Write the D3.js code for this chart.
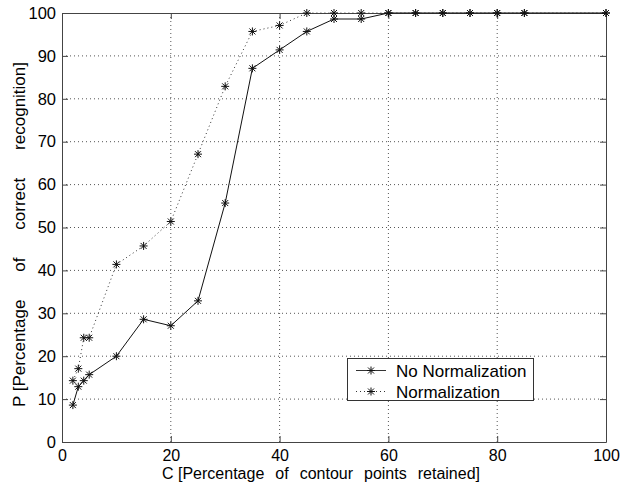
<!DOCTYPE html>
<html>
<head>
<meta charset="utf-8">
<script src="https://cdn.jsdelivr.net/npm/d3@7"></script>
<style>
html,body{margin:0;padding:0;background:#fff;}
svg{display:block;}
text{font-family:"Liberation Sans",Arial,Helvetica,sans-serif;fill:#000;}
</style>
</head>
<body>
<svg id="chart" width="623" height="483"></svg>
<script>
const xValues = [2,3,4,5,10,15,20,25,30,35,40,45,50,55,60,65,70,75,80,85,100];
const noNormalization = [8.6,12.9,14.3,15.7,20.0,28.6,27.1,32.9,55.7,87.1,91.4,95.7,98.6,98.6,100,100,100,100,100,100,100];
const normalization = [14.3,17.1,24.3,24.3,41.4,45.7,51.4,67.1,82.9,95.7,97.1,100,100,100,100,100,100,100,100,100,100];
const seriesNames = ["No Normalization","Normalization"];
const xTicks = [0,20,40,60,80,100];
const yTicks = [0,10,20,30,40,50,60,70,80,90,100];
const xTitleWords = ["C [Percentage","of","contour","points","retained]"];
const yTitleWords = ["P [Percentage","of","correct","recognition]"];

const svg = d3.select("#chart");
const L = 62, R = 606, T = 13, B = 442;
const x = d3.scaleLinear().domain([0,100]).range([L,R]);
const y = d3.scaleLinear().domain([0,100]).range([B,T]);
const axisColor = "#444";

// grid
const g = svg.append("g");
g.selectAll(".gx").data(xTicks.filter(d=>d>0&&d<100)).enter().append("line")
  .attr("x1",d=>x(d)).attr("x2",d=>x(d)).attr("y1",T).attr("y2",B)
  .attr("stroke","#555").attr("stroke-width",1).attr("stroke-dasharray","1,3");
g.selectAll(".gy").data(yTicks.filter(d=>d>0&&d<100)).enter().append("line")
  .attr("y1",d=>y(d)).attr("y2",d=>y(d)).attr("x1",L).attr("x2",R)
  .attr("stroke","#555").attr("stroke-width",1).attr("stroke-dasharray","1,3");

// axes (inward ticks on all sides)
svg.append("g").attr("transform",`translate(0,${B})`)
  .call(d3.axisBottom(x).tickValues(xTicks).tickSizeInner(-6).tickSizeOuter(0).tickPadding(7.5))
  .call(a=>{a.select(".domain").attr("stroke",axisColor);a.selectAll("line").attr("stroke",axisColor);
    a.selectAll("text").style("font-size","16px").attr("fill","#000");});
svg.append("g").attr("transform",`translate(0,${T})`)
  .call(d3.axisTop(x).tickValues(xTicks).tickSizeInner(-6).tickSizeOuter(0).tickFormat(""))
  .call(a=>{a.select(".domain").attr("stroke",axisColor);a.selectAll("line").attr("stroke",axisColor);});
svg.append("g").attr("transform",`translate(${L},0)`)
  .call(d3.axisLeft(y).tickValues(yTicks).tickSizeInner(-6).tickSizeOuter(0).tickPadding(6))
  .call(a=>{a.select(".domain").attr("stroke",axisColor);a.selectAll("line").attr("stroke",axisColor);
    a.selectAll("text").style("font-size","16.5px").attr("fill","#000");});
svg.append("g").attr("transform",`translate(${R},0)`)
  .call(d3.axisRight(y).tickValues(yTicks).tickSizeInner(-6).tickSizeOuter(0).tickFormat(""))
  .call(a=>{a.select(".domain").attr("stroke",axisColor);a.selectAll("line").attr("stroke",axisColor);});

// series
const data1 = xValues.map((d,i)=>[d,noNormalization[i]]);
const data2 = xValues.map((d,i)=>[d,normalization[i]]);
const line = d3.line().x(d=>x(d[0])).y(d=>y(d[1]));
svg.append("path").datum(data2).attr("d",line).attr("fill","none")
  .attr("stroke","#333").attr("stroke-width",1).attr("stroke-dasharray","1,3");
svg.append("path").datum(data1).attr("d",line).attr("fill","none")
  .attr("stroke","#111").attr("stroke-width",1);

function star(sel, cx, cy){
  const r = 4, d = 3;
  const p = `M${cx-r},${cy}L${cx+r},${cy}M${cx},${cy-r}L${cx},${cy+r}M${cx-d},${cy-d}L${cx+d},${cy+d}M${cx-d},${cy+d}L${cx+d},${cy-d}`;
  sel.append("path").attr("d",p).attr("stroke","#111").attr("stroke-width",1).attr("fill","none");
}
const mk = svg.append("g");
data2.forEach(d=>star(mk, x(d[0]), y(d[1])));
data1.forEach(d=>star(mk, x(d[0]), y(d[1])));

// legend
const lg = svg.append("g");
lg.append("rect").attr("x",347.5).attr("y",358.5).attr("width",186).attr("height",42)
  .attr("fill","#fff").attr("stroke","#333").attr("stroke-width",1);
const ly = [370.5, 391.5];
seriesNames.forEach((name,i)=>{
  const ln = lg.append("line").attr("x1",356).attr("x2",386).attr("y1",ly[i]).attr("y2",ly[i])
    .attr("stroke","#333").attr("stroke-width",1);
  if(i===1) ln.attr("stroke-dasharray","1,3");
  star(lg, 371, ly[i]);
  lg.append("text").attr("x",396).attr("y",ly[i]+6).style("font-size","17px").text(name);
});

// titles: words laid out to span a target length, evenly gapped
function spreadTitle(words, x0, x1, baseline, transform, size){
  const t = svg.append("text").style("font-size",size);
  if(transform) t.attr("transform",transform);
  const spans = words.map(w=>t.append("tspan").text(w));
  const widths = spans.map(s=>s.node().getComputedTextLength());
  const total = d3.sum(widths);
  const gap = (x1-x0-total)/(words.length-1);
  let cx = x0;
  spans.forEach((s,i)=>{ s.attr("x",cx).attr("y",baseline); cx += widths[i]+gap; });
}
spreadTitle(xTitleWords, 162, 480, 479.3, null, "16px");
// rotated: local x runs upward on screen; map screen y 407 -> 62
spreadTitle(yTitleWords, -407, -62, 25, "rotate(-90)", "17px");
</script>
</body>
</html>
